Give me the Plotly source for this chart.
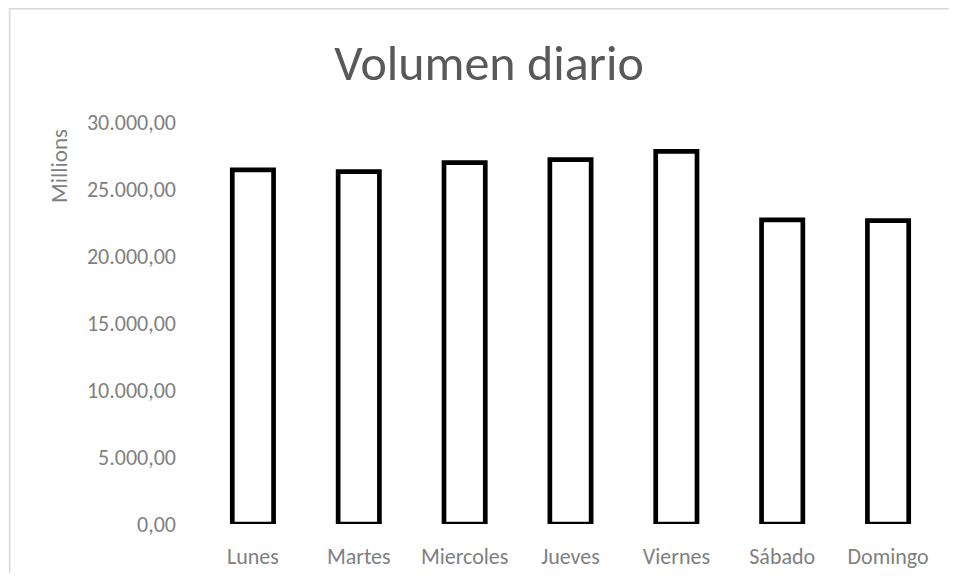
import plotly.graph_objects as go

# ---- data (values in millions) ----
days = ["Lunes", "Martes", "Miercoles", "Jueves", "Viernes", "Sábado", "Domingo"]
volumen = [26420, 26300, 26970, 27190, 27810, 22690, 22640]
y_ticks = [0, 5000, 10000, 15000, 20000, 25000, 30000]

# ---- layout geometry (page pixels; page body has an 8px margin) ----
OFF = 8
W, H = 957 - 2 * OFF, 581 - 2 * OFF
PL, PR, PT, PB = 200, 941, 122, 524          # plot area in page pixels
L, R, T, B = PL - OFF, W - (PR - OFF), PT - OFF, H - (PB - OFF)
pw, ph = W - L - R, H - T - B

def px_x(p):
    return (p - OFF - L) / pw

def px_y(p):
    return (PB - p) / ph

FONT = "Carlito, Calibri, Lato, sans-serif"
GREY = "#7f7f7f"

fig = go.Figure(
    go.Bar(
        x=days,
        y=volumen,
        marker=dict(color="white", line=dict(color="black", width=4.7)),
        hoverinfo="x+y",
    )
)

fig.update_layout(
    width=W,
    height=H,
    margin=dict(l=L, r=R, t=T, b=B, autoexpand=False),
    paper_bgcolor="#fafafa",
    plot_bgcolor="rgba(0,0,0,0)",
    separators=",.",
    bargap=0.61,
    showlegend=False,
    title=dict(
        text="Volumen diario",
        x=(489 - OFF) / W,
        xanchor="center",
        xref="container",
        y=1 - (62 - OFF) / H,
        yref="container",
        yanchor="middle",
        font=dict(family=FONT, size=50, color="#595959", weight=300),
    ),
    shapes=[
        dict(
            type="rect",
            xref="paper",
            yref="paper",
            x0=px_x(9.75),
            x1=px_x(990),
            y0=px_y(600),
            y1=px_y(8.75),
            line=dict(color="#d9d9d9", width=1.5),
            fillcolor="white",
            layer="below",
        )
    ],
    annotations=[
        dict(
            text="Millions",
            xref="paper",
            yref="paper",
            x=px_x(59),
            y=px_y(166),
            xanchor="center",
            yanchor="middle",
            textangle=-90,
            showarrow=False,
            font=dict(family=FONT, size=23, color=GREY),
        )
    ],
    xaxis=dict(
        showgrid=False,
        showline=False,
        zeroline=False,
        ticks="",
        automargin=False,
        ticklabelstandoff=17,
        tickfont=dict(family=FONT, size=22, color=GREY),
        fixedrange=True,
    ),
    yaxis=dict(
        range=[0, 30000],
        tickvals=y_ticks,
        tickformat=",.2f",
        showgrid=False,
        showline=False,
        zeroline=False,
        ticks="",
        automargin=False,
        ticklabelstandoff=23,
        tickfont=dict(family=FONT, size=22, color=GREY),
        fixedrange=True,
    ),
)

fig.write_html("out.html")
